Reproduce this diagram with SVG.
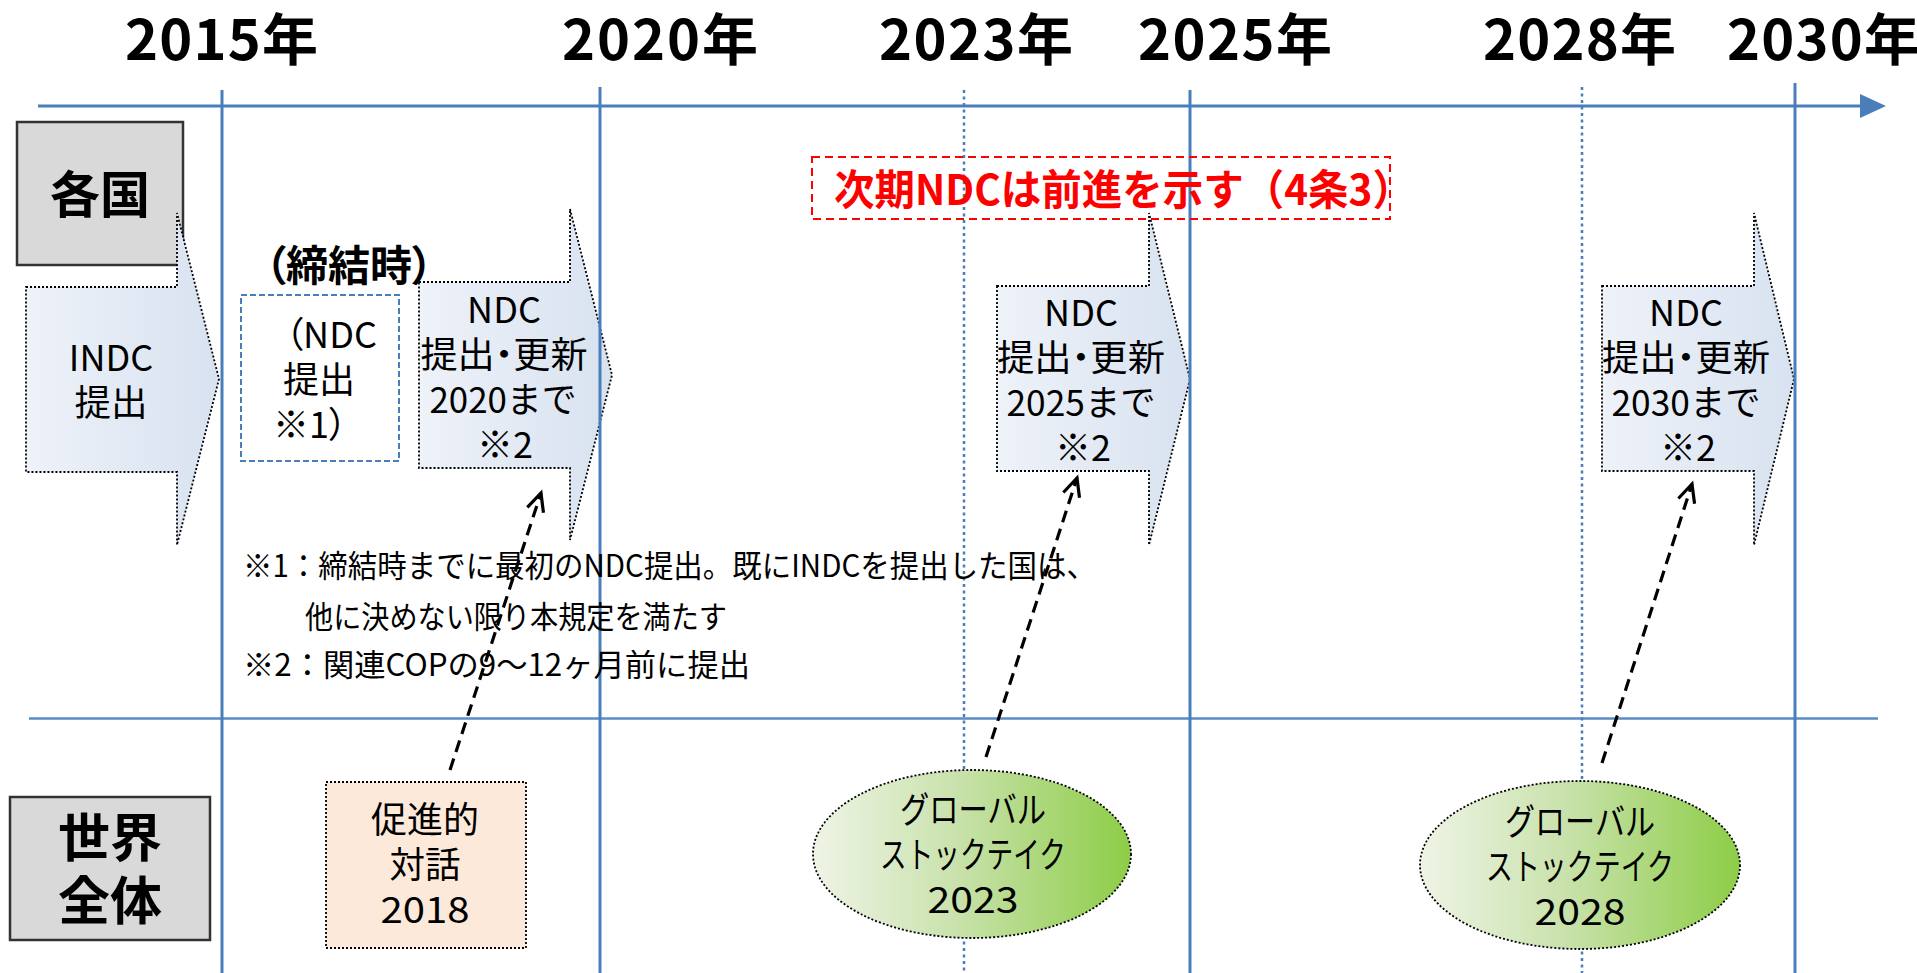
<svg xmlns="http://www.w3.org/2000/svg" width="1917" height="973" viewBox="0 0 1917 973">
<style>
text { font-family: "Noto Sans CJK JP", "Noto Sans", sans-serif; fill: #000; }
.b { font-weight: bold; }
.m { text-anchor: middle; }
.yr { font-size: 56px; font-weight: bold; }
.s36 { font-size: 36px; }
.s31 { font-size: 31px; }
.vl { stroke: #4a7ebb; stroke-width: 3; fill: none; }
.vd { stroke: #4a7ebb; stroke-width: 2.5; stroke-dasharray: 3 3.5; fill: none; }
.blk { fill: url(#gArrow); stroke: #000; stroke-width: 1.8; stroke-dasharray: 2 2; }
.gray { fill: #d9d9d9; stroke: #333; stroke-width: 2.5; }
.con { stroke: #000; stroke-width: 3.2; stroke-dasharray: 12 7; fill: none; marker-end: url(#openArrow); }
.palt { font-feature-settings: "palt"; }
</style>
<defs>
<linearGradient id="gArrow" x1="0" y1="0" x2="1" y2="0">
<stop offset="0" stop-color="#eef2f9"/>
<stop offset="1" stop-color="#d8e2f0"/>
</linearGradient>
<linearGradient id="gGreen" x1="0" y1="0" x2="1" y2="0">
<stop offset="0" stop-color="#eff4e6"/>
<stop offset="0.45" stop-color="#c9e2ac"/>
<stop offset="1" stop-color="#8dcd47"/>
</linearGradient>
<marker id="openArrow" markerUnits="userSpaceOnUse" markerWidth="40" markerHeight="40" viewBox="-30 -20 40 40" refX="0" refY="0" orient="auto">
<path d="M -18 -8.5 L 0 0 L -18 8.5" fill="none" stroke="#000" stroke-width="3.2" stroke-dasharray="none"/>
</marker>
</defs>
<rect width="1917" height="973" fill="#fff"/>

<g id="year-labels">
<text class="yr" x="125" y="60" textLength="193">2015年</text>
<text class="yr" x="562" y="60" textLength="196">2020年</text>
<text class="yr" x="879" y="60" textLength="194">2023年</text>
<text class="yr" x="1138" y="60" textLength="194">2025年</text>
<text class="yr" x="1483" y="60" textLength="193">2028年</text>
<text class="yr" x="1727" y="60" textLength="193">2030年</text>
</g>

<g id="node-kakkoku">
<rect class="gray" x="17" y="122" width="166" height="143"/>
<text class="b m" x="100" y="213" font-size="50">各国</text>
</g>

<g id="node-indc">
<path class="blk" d="M26 287 L177 287 L177 213 L219 379 L177 545 L177 472 L26 472 Z"/>
<text class="s36 m" x="111" y="371">INDC</text>
<text class="s36 m" x="111" y="416" textLength="73" lengthAdjust="spacingAndGlyphs">提出</text>
</g>

<g id="node-ndc2020">
<path class="blk" d="M419 282 L570 282 L570 209 L612 375 L570 540 L570 468 L419 468 Z"/>
<text class="s36 m" x="504" y="323">NDC</text>
<text class="s36 m palt" x="504" y="368" textLength="167" lengthAdjust="spacingAndGlyphs">提出・更新</text>
<text class="s36 m" x="503" y="413" textLength="147" lengthAdjust="spacingAndGlyphs">2020まで</text>
<text class="s36 m" x="505" y="458">※2</text>
</g>

<g id="node-ndc2025">
<path class="blk" d="M997 286 L1149 286 L1149 213 L1190 379 L1149 545 L1149 471 L997 471 Z"/>
<text class="s36 m" x="1081" y="326">NDC</text>
<text class="s36 m palt" x="1081" y="371" textLength="168" lengthAdjust="spacingAndGlyphs">提出・更新</text>
<text class="s36 m" x="1081" y="416" textLength="149" lengthAdjust="spacingAndGlyphs">2025まで</text>
<text class="s36 m" x="1083" y="461">※2</text>
</g>

<g id="node-ndc2030">
<path class="blk" d="M1602 286 L1754 286 L1754 213 L1794 379 L1754 545 L1754 471 L1602 471 Z"/>
<text class="s36 m" x="1686" y="326">NDC</text>
<text class="s36 m palt" x="1686" y="371" textLength="168" lengthAdjust="spacingAndGlyphs">提出・更新</text>
<text class="s36 m" x="1686" y="416" textLength="149" lengthAdjust="spacingAndGlyphs">2030まで</text>
<text class="s36 m" x="1688" y="461">※2</text>
</g>

<g id="grid">
<line x1="38" y1="106" x2="1862" y2="106" stroke="#4a7ebb" stroke-width="3"/>
<polygon points="1860,94 1886,106 1860,118" fill="#4a7ebb"/>
<line x1="29" y1="718.5" x2="1878" y2="718.5" stroke="#5b8bc6" stroke-width="2.5"/>
<line class="vl" x1="222" y1="90" x2="222" y2="973"/>
<line class="vl" x1="600" y1="87" x2="600" y2="973"/>
<line class="vd" x1="964" y1="90" x2="964" y2="973"/>
<line class="vl" x1="1190" y1="90" x2="1190" y2="973"/>
<line class="vd" x1="1582" y1="87" x2="1582" y2="973"/>
<line class="vl" x1="1795" y1="83" x2="1795" y2="973"/>
</g>

<g id="node-teiketsuji">
<text class="b m palt" x="349" y="281" font-size="42">（締結時）</text>
</g>

<g id="node-ndc-teishutsu">
<rect x="241" y="295" width="158" height="166" fill="#fff" stroke="#4a7ebb" stroke-width="2" stroke-dasharray="6 3"/>
<text class="s36 m palt" x="331" y="348">（NDC</text>
<text class="s36 m" x="319" y="393" textLength="72" lengthAdjust="spacingAndGlyphs">提出</text>
<text class="s36 m palt" x="310" y="438">※1）</text>
</g>

<g id="node-jiki-ndc">
<rect x="812" y="157" width="578" height="62" fill="none" stroke="#ff0000" stroke-width="2" stroke-dasharray="8 5"/>
<text class="b" x="834" y="205" font-size="42" textLength="579" lengthAdjust="spacingAndGlyphs" style="fill:#ff0000">次期NDCは前進を示す（4条3）</text>
</g>

<g id="notes">
<text class="s31" x="243" y="577" textLength="853" lengthAdjust="spacingAndGlyphs">※1：締結時までに最初のNDC提出。既にINDCを提出した国は、</text>
<text class="s31" x="305" y="628" textLength="422" lengthAdjust="spacingAndGlyphs">他に決めない限り本規定を満たす</text>
<text class="s31" x="243" y="676" textLength="507" lengthAdjust="spacingAndGlyphs">※2：関連COPの9～12ヶ月前に提出</text>
</g>

<g id="node-sekai">
<rect class="gray" x="10" y="797" width="200" height="143"/>
<text class="b m" x="110" y="857" font-size="52">世界</text>
<text class="b m" x="110" y="920" font-size="52">全体</text>
</g>

<g id="node-sokushin">
<rect x="326" y="782" width="200" height="166" fill="#fde9d9" stroke="#000" stroke-width="1.8" stroke-dasharray="2 2"/>
<text class="s36 m" x="425" y="833" textLength="108" lengthAdjust="spacingAndGlyphs">促進的</text>
<text class="s36 m" x="425" y="878" textLength="71" lengthAdjust="spacingAndGlyphs">対話</text>
<text class="s36 m" x="425" y="923" textLength="89" lengthAdjust="spacingAndGlyphs">2018</text>
</g>

<g id="node-gst2023">
<ellipse cx="972" cy="854" rx="159" ry="84" fill="url(#gGreen)" stroke="#000" stroke-width="1.8" stroke-dasharray="2 2"/>
<text class="s36 m" x="973" y="823" textLength="146" lengthAdjust="spacingAndGlyphs">グローバル</text>
<text class="s36 m" x="973" y="868" textLength="186" lengthAdjust="spacingAndGlyphs">ストックテイク</text>
<text class="s36 m" x="973" y="913" textLength="91" lengthAdjust="spacingAndGlyphs">2023</text>
</g>

<g id="node-gst2028">
<ellipse cx="1580" cy="865" rx="160" ry="84" fill="url(#gGreen)" stroke="#000" stroke-width="1.8" stroke-dasharray="2 2"/>
<text class="s36 m" x="1580" y="835" textLength="150" lengthAdjust="spacingAndGlyphs">グローバル</text>
<text class="s36 m" x="1580" y="880" textLength="188" lengthAdjust="spacingAndGlyphs">ストックテイク</text>
<text class="s36 m" x="1580" y="925" textLength="91" lengthAdjust="spacingAndGlyphs">2028</text>
</g>

<g id="connectors">
<line class="con" x1="450" y1="770" x2="541" y2="493"/>
<line class="con" x1="986" y1="757" x2="1077" y2="478"/>
<line class="con" x1="1602" y1="763" x2="1692" y2="484"/>
</g>
</svg>
